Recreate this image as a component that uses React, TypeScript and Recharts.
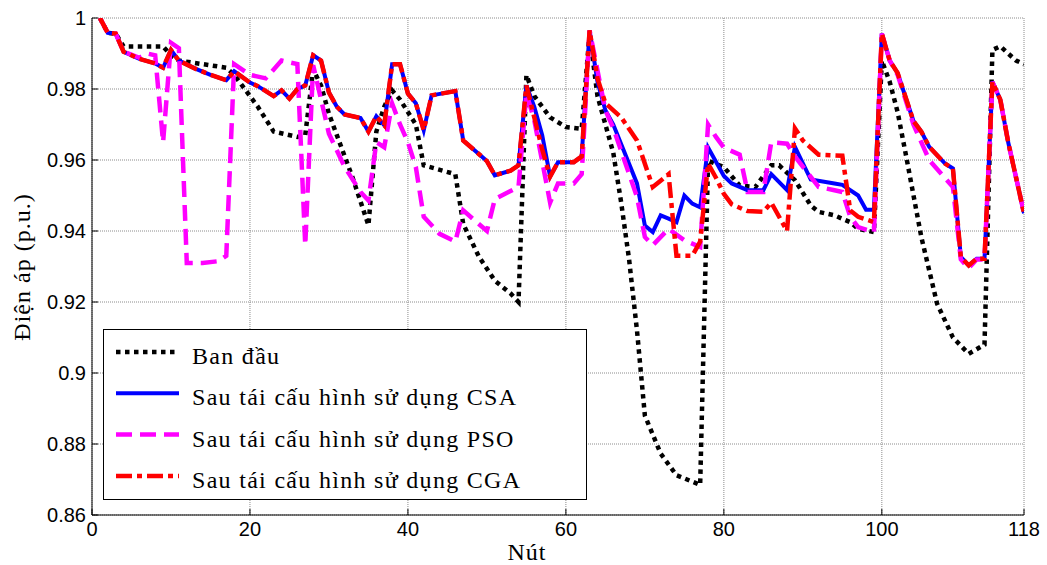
import { LineChart, Line, XAxis, YAxis, CartesianGrid } from 'recharts'

type Pt = [number, number]

const xTicks = [0, 20, 40, 60, 80, 100, 118]
const yTicks = [0.86, 0.88, 0.9, 0.92, 0.94, 0.96, 0.98, 1]

// node, voltage (p.u.) - corner points
const banDau: Pt[] = [
  [1, 1.0], [2, 0.9958], [3, 0.9956], [4, 0.992], [9, 0.992], [10, 0.9895], [11, 0.988], [17, 0.986],
  [18, 0.984], [19, 0.981], [21, 0.975], [23, 0.968], [26, 0.9665], [27, 0.967], [28, 0.9855], [29, 0.981],
  [30, 0.973], [31, 0.967], [33, 0.955], [35, 0.9416], [36, 0.968], [37, 0.975], [38, 0.9796], [39, 0.977],
  [41, 0.97], [42, 0.9585], [46, 0.956], [47, 0.942], [49, 0.9327], [51, 0.926], [53, 0.9224], [54, 0.92],
  [55, 0.9839], [56, 0.978], [58, 0.972], [60, 0.9693], [62, 0.9688], [63, 0.9956], [64, 0.978], [65, 0.97],
  [66, 0.962], [67, 0.948], [68, 0.932], [69, 0.912], [70, 0.888], [72, 0.8773], [74, 0.8712], [77, 0.8685],
  [78, 0.9598], [80, 0.958], [82, 0.9528], [84, 0.9524], [86, 0.9585], [87, 0.9585], [89, 0.9543], [91, 0.9472],
  [92, 0.9454], [94, 0.9444], [96, 0.9425], [97, 0.9406], [99, 0.9397], [100, 0.988], [101, 0.982], [102, 0.9735],
  [103, 0.962], [105, 0.9383], [107, 0.9195], [109, 0.91], [111, 0.9054], [113, 0.908], [114, 0.991], [115, 0.992],
  [117, 0.988], [118, 0.987],
]

const csa: Pt[] = [
  [1, 1.0], [2, 0.9958], [3, 0.9956], [4, 0.9905], [6, 0.9885], [8, 0.9872], [9, 0.986], [10, 0.991],
  [11, 0.988], [13, 0.9858], [15, 0.984], [17, 0.9825], [18, 0.985], [20, 0.9818], [21, 0.9808], [23, 0.978],
  [24, 0.9796], [25, 0.9773], [26, 0.98], [27, 0.981], [28, 0.9895], [29, 0.988], [30, 0.979], [31, 0.975],
  [32, 0.9728], [34, 0.9718], [35, 0.968], [36, 0.9723], [37, 0.9698], [38, 0.987], [39, 0.987], [40, 0.9787],
  [41, 0.976], [42, 0.9684], [43, 0.9782], [46, 0.9794], [47, 0.9655], [50, 0.9597], [51, 0.9557], [53, 0.957],
  [54, 0.9585], [55, 0.981], [56, 0.975], [57, 0.967], [58, 0.9553], [59, 0.9594], [61, 0.9594], [62, 0.961],
  [63, 0.9965], [64, 0.982], [65, 0.974], [66, 0.97], [69, 0.9534], [70, 0.9415], [71, 0.9397], [72, 0.9444],
  [73, 0.9435], [74, 0.9425], [75, 0.95], [76, 0.9477], [77, 0.9467], [78, 0.9635], [79, 0.9595], [80, 0.9555],
  [81, 0.9534], [83, 0.9515], [85, 0.9515], [86, 0.956], [88, 0.9515], [89, 0.9637], [91, 0.9545], [94, 0.9534],
  [95, 0.953], [97, 0.95], [98, 0.946], [99, 0.946], [100, 0.9956], [101, 0.988], [102, 0.9845], [104, 0.971],
  [105, 0.968], [106, 0.9637], [108, 0.959], [109, 0.9576], [110, 0.9327], [111, 0.9303], [112, 0.9322],
  [113, 0.9322], [114, 0.982], [115, 0.977], [116, 0.965], [117, 0.955], [118, 0.945],
]

const pso: Pt[] = [
  [1, 1.0], [2, 0.9958], [3, 0.9956], [4, 0.9905], [6, 0.9888], [7, 0.99], [8, 0.9895], [9, 0.965],
  [10, 0.993], [11, 0.9915], [12, 0.931], [14, 0.931], [16, 0.9315], [17, 0.933], [18, 0.987], [20, 0.984],
  [22, 0.983], [24, 0.988], [26, 0.987], [27, 0.936], [28, 0.9867], [30, 0.9674], [32, 0.958], [34, 0.951],
  [35, 0.9486], [36, 0.965], [37, 0.9636], [38, 0.9759], [39, 0.97], [40, 0.965], [41, 0.958], [42, 0.944],
  [44, 0.9392], [46, 0.937], [47, 0.9458], [50, 0.94], [51, 0.949], [54, 0.9524], [55, 0.9787], [56, 0.9712],
  [58, 0.948], [59, 0.9534], [61, 0.9534], [62, 0.956], [63, 0.9965], [65, 0.974], [66, 0.969], [69, 0.9496],
  [70, 0.9383], [71, 0.936], [73, 0.9406], [75, 0.9374], [77, 0.9355], [78, 0.97], [79, 0.9665], [80, 0.9635],
  [82, 0.9615], [83, 0.951], [85, 0.951], [86, 0.965], [88, 0.9646], [89, 0.961], [92, 0.9524], [94, 0.9515],
  [95, 0.951], [96, 0.944], [97, 0.9411], [99, 0.9397], [100, 0.9956], [101, 0.988], [102, 0.984], [104, 0.97],
  [106, 0.96], [109, 0.9524], [110, 0.932], [111, 0.9295], [112, 0.932], [113, 0.932], [114, 0.982],
  [115, 0.977], [116, 0.965], [117, 0.955], [118, 0.945],
]

const cga: Pt[] = [
  [1, 1.0], [2, 0.9958], [3, 0.9956], [4, 0.9905], [6, 0.9885], [8, 0.9872], [9, 0.986], [10, 0.991],
  [11, 0.988], [13, 0.9858], [15, 0.984], [17, 0.9825], [18, 0.985], [20, 0.9818], [21, 0.9808], [23, 0.978],
  [24, 0.9796], [25, 0.9773], [26, 0.98], [27, 0.981], [28, 0.9895], [29, 0.988], [30, 0.979], [31, 0.975],
  [32, 0.9728], [34, 0.9718], [35, 0.968], [36, 0.9723], [37, 0.9698], [38, 0.987], [39, 0.987], [40, 0.9787],
  [41, 0.976], [42, 0.9684], [43, 0.9782], [46, 0.9794], [47, 0.9655], [50, 0.9597], [51, 0.9557], [53, 0.957],
  [54, 0.9585], [55, 0.981], [56, 0.972], [57, 0.963], [58, 0.9553], [59, 0.9594], [61, 0.9594], [62, 0.961],
  [63, 0.9965], [64, 0.983], [65, 0.976], [67, 0.972], [69, 0.9655], [71, 0.9524], [73, 0.956], [74, 0.933],
  [76, 0.933], [77, 0.937], [78, 0.959], [79, 0.955], [80, 0.9505], [81, 0.9475], [83, 0.9456], [85, 0.9454],
  [86, 0.948], [88, 0.94], [89, 0.9689], [90, 0.9655], [92, 0.9615], [95, 0.9612], [96, 0.9458], [97, 0.944],
  [99, 0.9425], [100, 0.9956], [101, 0.988], [102, 0.9845], [104, 0.971], [105, 0.968], [106, 0.9637],
  [108, 0.959], [109, 0.9576], [110, 0.9327], [111, 0.9303], [112, 0.9322], [113, 0.9322], [114, 0.982],
  [115, 0.977], [116, 0.965], [117, 0.955], [118, 0.945],
]

const series = [
  { name: 'Ban đầu', pts: banDau, stroke: '#000000', width: 4.5, dash: '4.5 4.5' },
  { name: 'Sau tái cấu hình sử dụng CSA', pts: csa, stroke: '#0000ff', width: 4, dash: undefined },
  { name: 'Sau tái cấu hình sử dụng PSO', pts: pso, stroke: '#ff00ff', width: 4.5, dash: '16 8' },
  { name: 'Sau tái cấu hình sử dụng CGA', pts: cga, stroke: '#ff0000', width: 4.5, dash: '16 5 5 5' },
]

const toRows = (pts: Pt[]) => pts.map(([x, y]) => ({ x, y }))

const sansTick = { fontFamily: '"Liberation Sans", Arial, sans-serif', fontSize: 20, fill: '#000' }
const serif = '"Liberation Serif", "Times New Roman", serif'

function ChartLegend() {
  return (
    <div
      style={{
        position: 'absolute', left: 103, top: 329, width: 484, height: 171,
        border: '1px solid #000', background: '#fff', boxSizing: 'border-box',
      }}
    >
      <svg width={482} height={169}>
        {series.map((s, i) => {
          const y = 22 + i * 41.3
          return (
            <g key={s.name}>
              <line x1={12} x2={75} y1={y} y2={y} stroke={s.stroke} strokeWidth={s.width} strokeDasharray={s.dash} />
              <text x={88} y={y + 12} fontFamily={serif} fontSize={24} letterSpacing={1.3} fill="#000">
                {s.name}
              </text>
            </g>
          )
        })}
      </svg>
    </div>
  )
}

export default function App() {
  return (
    <div style={{ position: 'fixed', left: 0, top: 0, width: 1047, height: 565, background: '#fff' }}>
      <LineChart width={1047} height={565} margin={{ top: 18, right: 23, left: 0, bottom: 0 }}>
        <CartesianGrid stroke="#8c8c8c" strokeDasharray="1 1" />
        <XAxis
          dataKey="x"
          type="number"
          domain={[0, 118]}
          ticks={xTicks}
          height={50}
          tick={sansTick}
          tickSize={-6}
          tickMargin={13}
          stroke="#000"
          allowDataOverflow
          label={() => (
            <text x={527} y={560} textAnchor="middle" fontFamily={serif} fontSize={24} letterSpacing={1} fill="#000">
              Nút
            </text>
          )}
        />
        <XAxis xAxisId="top" orientation="top" type="number" domain={[0, 118]} ticks={xTicks} height={0} tick={false} tickSize={-6} stroke="#000" />
        <YAxis
          type="number"
          domain={[0.86, 1]}
          ticks={yTicks}
          width={92}
          tick={sansTick}
          tickSize={-6}
          tickMargin={12}
          stroke="#000"
          tickFormatter={(v: number) => `${+v.toFixed(2)}`}
          allowDataOverflow
          label={() => (
            <text
              x={22}
              y={267}
              transform="rotate(-90 22 267)"
              textAnchor="middle"
              dominantBaseline="central"
              fontFamily={serif}
              fontSize={24}
              letterSpacing={1}
              fill="#000"
            >
              Điện áp (p.u.)
            </text>
          )}
        />
        <YAxis yAxisId="right" orientation="right" type="number" domain={[0.86, 1]} ticks={yTicks} width={0} tick={false} tickSize={-6} stroke="#000" />
        {series.map((s) => (
          <Line
            key={s.name}
            data={toRows(s.pts)}
            dataKey="y"
            name={s.name}
            type="linear"
            stroke={s.stroke}
            strokeWidth={s.width}
            strokeDasharray={s.dash}
            dot={false}
            activeDot={false}
            isAnimationActive={false}
          />
        ))}
      </LineChart>
      <ChartLegend />
    </div>
  )
}
